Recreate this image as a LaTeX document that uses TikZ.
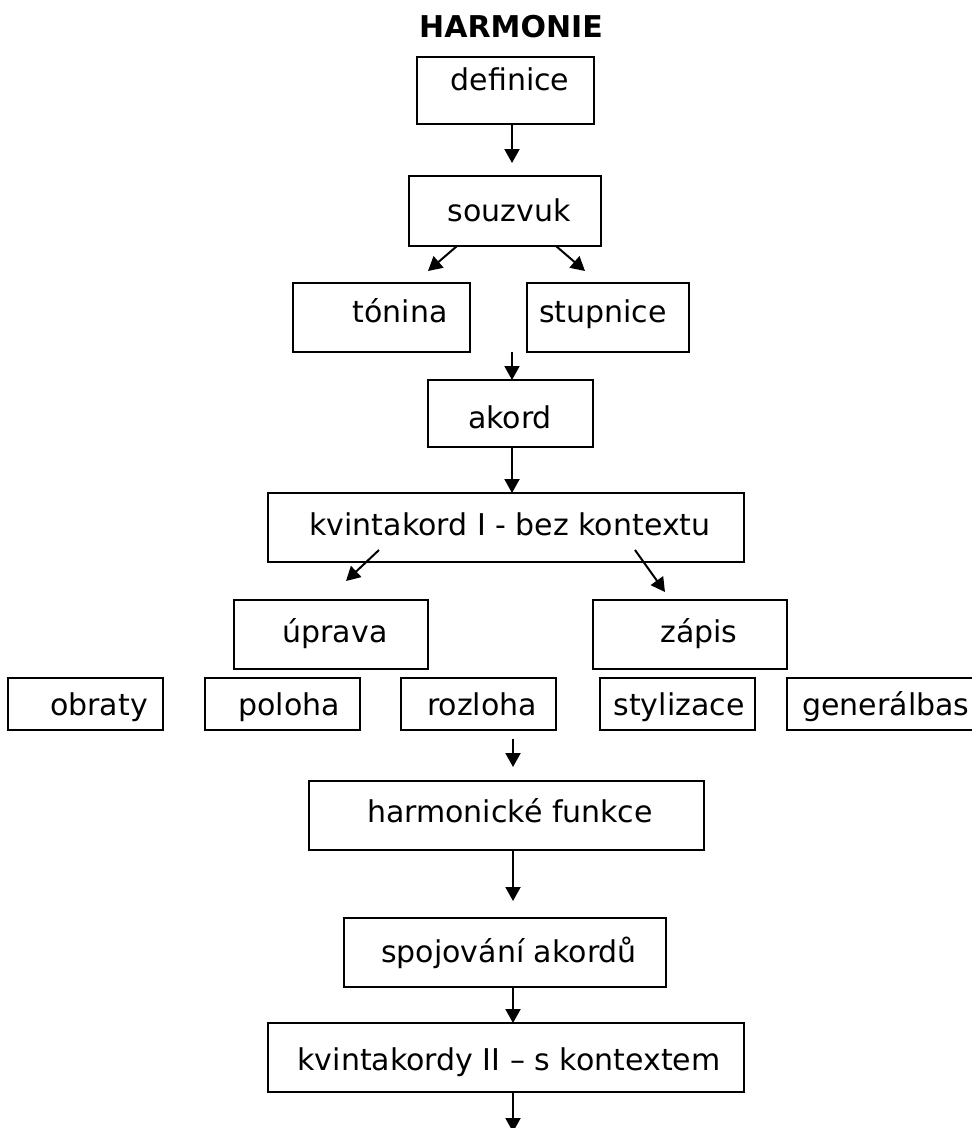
\documentclass[tikz,border=0pt]{standalone}
\usepackage{fontspec}
\setmainfont{DejaVu Sans}
\usetikzlibrary{arrows.meta}

\tikzset{
  kader/.style={draw, line width=2pt, inner sep=0pt, outer sep=0pt},
  woord/.style={anchor=base, inner sep=0pt, font=\fontsize{30}{36}\selectfont},
  pijl/.style={line width=2pt, -{Triangle[length=14pt,width=15pt]}},
}

\begin{document}
\begin{tikzpicture}[x=1pt, y=-1pt]

    \useasboundingbox (0,0) rectangle (972,1128);

    % titel
    \node[woord, font=\fontsize{30}{36}\selectfont\bfseries] (titel) at (511,37) {HARMONIE};

    % kaders: naam / links / boven / rechts / onder
    \foreach \naam/\xa/\ya/\xb/\yb in {
        definice/417/57/594/124,
        souzvuk/409/176/601/246,
        tonina/293/283/470/352,
        stupnice/527/283/689/352,
        akord/428/380/593/447,
        kvintI/268/493/744/562,
        uprava/234/600/428/669,
        zapis/593/600/787/669,
        obraty/8/678/163/730,
        poloha/205/678/360/730,
        rozloha/401/678/556/730,
        stylizace/600/678/755/730,
        generalbas/787/678/985/730,
        funkce/309/781/704/850,
        spojovani/344/918/666/987,
        kvintII/268/1023/744/1092}{
        \node[kader, minimum width={\xb-\xa}, minimum height={\yb-\ya}]
            (\naam) at ({(\xa+\xb)/2},{(\ya+\yb)/2}) {};
    }

    % teksten in de kaders
    \foreach \naam/\tx/\ty/\tekst in {
        definice/510/90/definice,
        souzvuk/509/221/souzvuk,
        tonina/400/322/tónina,
        stupnice/603/322/stupnice,
        akord/510/428/akord,
        kvintI/510/535/kvintakord I - bez kontextu,
        uprava/335/642/úprava,
        zapis/699/642/zápis,
        obraty/99/715/obraty,
        poloha/289/715/poloha,
        rozloha/482/715/rozloha,
        stylizace/679/715/stylizace,
        generalbas/886/715/generálbas,
        funkce/510/822/harmonické funkce,
        spojovani/509/962/spojování akordů,
        kvintII/509/1070/kvintakordy II – s kontextem}{
        \node[woord] (\naam-t) at (\tx,\ty) {\tekst};
    }

    % vrije eindpunten van de pijlen
    \coordinate (d1) at (512,163);
    \coordinate (sl0) at (457,246);
    \coordinate (sl1) at (428,271);
    \coordinate (sr0) at (556,246);
    \coordinate (sr1) at (585,271);
    \coordinate (a0) at (512,352);
    \coordinate (kl0) at (379,550);
    \coordinate (kl1) at (346,581);
    \coordinate (kr0) at (635,550);
    \coordinate (kr1) at (665,592);
    \coordinate (r0) at (513,739);
    \coordinate (r1) at (513,767);
    \coordinate (h1) at (513,901);
    \coordinate (eind) at (513,1132);

    % pijlen
    \draw[pijl] (definice.south -| d1) -- (d1);
    \draw[pijl] (souzvuk.south -| sl0) -- (sl1);
    \draw[pijl] (souzvuk.south -| sr0) -- (sr1);
    \draw[pijl] (a0) -- (akord.north -| a0);
    \draw[pijl] (akord.south -| a0) -- (kvintI.north -| a0);
    \draw[pijl] (kl0) -- (kl1);
    \draw[pijl] (kr0) -- (kr1);
    \draw[pijl] (r0) -- (r1);
    \draw[pijl] (funkce.south -| r0) -- (h1);
    \draw[pijl] (spojovani.south -| r0) -- (kvintII.north -| r0);
    \draw[pijl] (kvintII.south -| r0) -- (eind);

\end{tikzpicture}
\end{document}
